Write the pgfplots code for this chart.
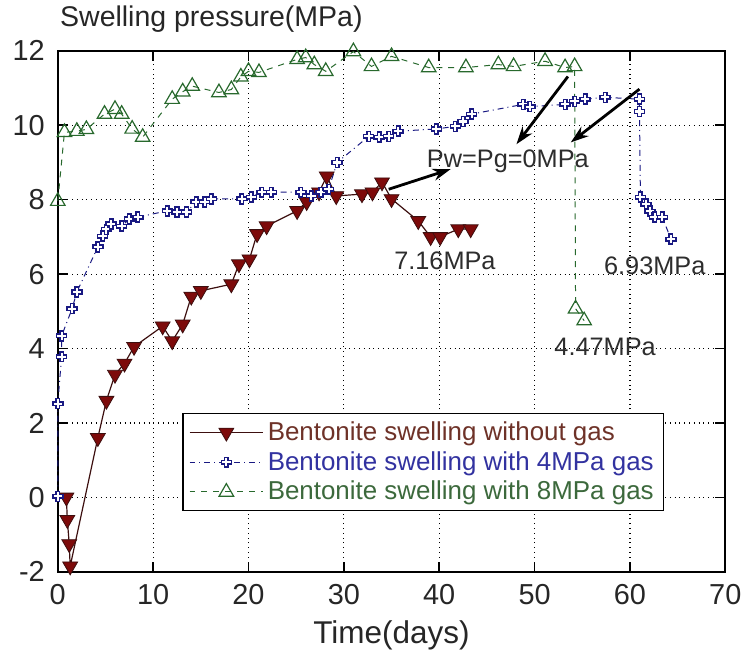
\documentclass[border=0pt]{standalone}
\usepackage{fontspec}
\setmainfont{Liberation Sans}
\usepackage{pgfplots}
\pgfplotsset{compat=1.18}
\usetikzlibrary{arrows.meta}
\definecolor{redfill}{RGB}{125,10,10}
\definecolor{redline}{RGB}{60,15,15}
\definecolor{redtext}{RGB}{110,50,40}
\definecolor{bluec}{RGB}{25,25,130}
\definecolor{bluetext}{RGB}{50,50,160}
\definecolor{greenc}{RGB}{40,105,45}
\definecolor{greentext}{RGB}{60,105,60}
\definecolor{anntext}{RGB}{45,45,45}
\pgfdeclareplotmark{ocross}{%
  \pgfmathsetlengthmacro\wcr{0.36*\pgfplotmarksize}%
  \pgfpathmoveto{\pgfpoint{-\wcr}{\pgfplotmarksize}}%
  \pgfpathlineto{\pgfpoint{\wcr}{\pgfplotmarksize}}%
  \pgfpathlineto{\pgfpoint{\wcr}{\wcr}}%
  \pgfpathlineto{\pgfpoint{\pgfplotmarksize}{\wcr}}%
  \pgfpathlineto{\pgfpoint{\pgfplotmarksize}{-\wcr}}%
  \pgfpathlineto{\pgfpoint{\wcr}{-\wcr}}%
  \pgfpathlineto{\pgfpoint{\wcr}{-\pgfplotmarksize}}%
  \pgfpathlineto{\pgfpoint{-\wcr}{-\pgfplotmarksize}}%
  \pgfpathlineto{\pgfpoint{-\wcr}{-\wcr}}%
  \pgfpathlineto{\pgfpoint{-\pgfplotmarksize}{-\wcr}}%
  \pgfpathlineto{\pgfpoint{-\pgfplotmarksize}{\wcr}}%
  \pgfpathlineto{\pgfpoint{-\wcr}{\wcr}}%
  \pgfpathclose
  \pgfusepathqfillstroke
}
\begin{document}
\begin{tikzpicture}
\begin{axis}[
  name=ax,
  scale only axis,
  width=335pt, height=261.5pt,
  xmin=0, xmax=70, ymin=-2, ymax=12,
  xtick={0,10,...,70}, ytick={-2,0,...,12},
  grid=major,
  major grid style={dotted, black, line width=0.6pt},
  axis line style={line width=0.8pt},
  tick style={black, line width=0.8pt},
  tick align=inside, major tick length=5pt,
  /pgf/number format/assume math mode=true,
  ticklabel style={font=\fontsize{14.5}{14.5}\selectfont, text=black!85},
  yticklabel style={xshift=-3pt},
  xticklabel style={yshift=-2.5pt},
  xlabel={Time(days)},
  xlabel style={font=\fontsize{15.8}{16}\selectfont, text=black!85, yshift=-1.5pt},
  clip=false,
  legend style={at={(0.1866,0.116)}, anchor=south west, draw=black, line width=0.6pt,
    fill=white, font=\fontsize{13}{15}\selectfont, cells={anchor=west},
    inner xsep=3pt, inner ysep=2pt},
  legend image code/.code={\draw[mark repeat=2,mark phase=2,#1] plot coordinates {(0cm,0cm) (0.65cm,0cm) (1.3cm,0cm)};},
]
\addplot[redline, line width=0.6pt, mark=triangle*, mark size=4.3pt,
  mark options={solid, rotate=180, fill=redfill, draw=redline, line width=0.4pt}]
coordinates {
(0.9,0.0)(1.0,-0.6)(1.2,-1.25)(1.3,-1.85)(4.2,1.6)(5.1,2.6)(6.0,3.3)(7.0,3.6)(8.0,4.05)
(11.0,4.6)(12.0,4.2)(13.1,4.65)(14.0,5.4)(15.0,5.55)(18.2,5.73)(19.0,6.27)(20.1,6.4)
(20.9,7.08)(21.9,7.29)(25.1,7.7)(26.1,7.94)(27.4,8.2)(28.2,8.63)(29.2,8.1)(31.9,8.15)
(33.0,8.2)(34.0,8.47)(35.0,8.02)(37.8,7.43)(39.1,7.0)(40.1,7.0)(42.0,7.21)(43.3,7.21)
};
\addlegendentry{\textcolor{redtext}{Bentonite swelling without gas}}
\addplot[bluec, line width=0.5pt, dash dot, mark=ocross, mark size=2.5pt,
  mark options={solid, fill=white, draw=bluec, line width=0.75pt}]
coordinates {
(0,0.03)(0,2.52)(0.4,3.78)(0.4,4.34)(1.5,5.07)(2.0,5.52)(4.2,6.73)(4.7,7.02)(5.1,7.2)
(5.6,7.35)(6.7,7.29)(7.5,7.48)(8.4,7.53)(11.5,7.7)(12.5,7.67)(13.5,7.67)(14.5,7.94)
(15.4,7.94)(16.1,8.02)(19.3,8.02)(20.3,8.07)(21.4,8.2)(22.4,8.2)(25.5,8.2)(26.6,8.1)
(27.6,8.2)(28.4,8.28)(29.3,9.0)(32.6,9.7)(33.7,9.68)(34.7,9.7)(35.7,9.84)(39.7,9.9)
(41.7,9.97)(42.5,10.1)(43.4,10.3)(48.8,10.56)(49.5,10.5)(53.2,10.56)(54.2,10.64)
(55.3,10.7)(57.4,10.75)(61.0,10.7)(61.0,10.37)(61.1,8.07)(61.7,7.88)(62.1,7.69)
(62.6,7.53)(63.4,7.53)(64.3,6.94)
};
\addlegendentry{\textcolor{bluetext}{Bentonite swelling with 4MPa gas}}
\addplot[greenc, line width=0.5pt, dashed, mark=triangle, mark size=4.2pt,
  mark options={solid, draw=greenc, line width=0.6pt}]
coordinates {
(0,7.96)(0.7,9.81)(2.0,9.84)(3.0,9.89)(4.9,10.3)(6.0,10.43)(6.7,10.3)(7.8,9.9)(8.9,9.68)
(12.0,10.7)(13.1,10.9)(14.1,11.05)(16.9,10.88)(18.2,10.96)(19.2,11.3)(20.0,11.45)
(21.1,11.42)(25.1,11.77)(26.0,11.82)(26.9,11.63)(28.1,11.45)(31.0,11.98)(32.9,11.58)
(35.0,11.85)(38.9,11.55)(42.8,11.55)(46.2,11.63)(47.8,11.58)(51.1,11.72)(53.2,11.55)
(54.2,11.58)(54.3,5.07)(55.2,4.75)
};
\addlegendentry{\textcolor{greentext}{Bentonite swelling with 8MPa gas}}
\draw[-{Stealth[length=9pt,width=6pt]}, line width=1.4pt, black] (axis cs:34.7,8.28) -- (axis cs:41.2,8.82);
\draw[-{Stealth[length=9pt,width=6pt]}, line width=1.4pt, black] (axis cs:53.5,11.31) -- (axis cs:48.1,9.49);
\draw[-{Stealth[length=9pt,width=6pt]}, line width=1.4pt, black] (axis cs:61.0,10.97) -- (axis cs:53.8,9.54);
\node[font=\fontsize{12.7}{12.7}\selectfont, text=anntext] at (axis cs:47.2,9.03) {Pw=Pg=0MPa};
\node[font=\fontsize{12.7}{12.7}\selectfont, text=anntext] at (axis cs:40.6,6.35) {7.16MPa};
\node[font=\fontsize{12.7}{12.7}\selectfont, text=anntext] at (axis cs:62.6,6.22) {6.93MPa};
\node[font=\fontsize{12.7}{12.7}\selectfont, text=anntext] at (axis cs:57.4,4.05) {4.47MPa};
\end{axis}
\node[anchor=base west, inner sep=0pt, font=\fontsize{14.3}{14.5}\selectfont, text=black!85]
  at ([shift={(1pt,12pt)}]ax.north west) {Swelling pressure(MPa)};
\path ([shift={(-29pt,-38.5pt)}]ax.south west) rectangle ([shift={(10pt,25.5pt)}]ax.north east);
\end{tikzpicture}
\end{document}
